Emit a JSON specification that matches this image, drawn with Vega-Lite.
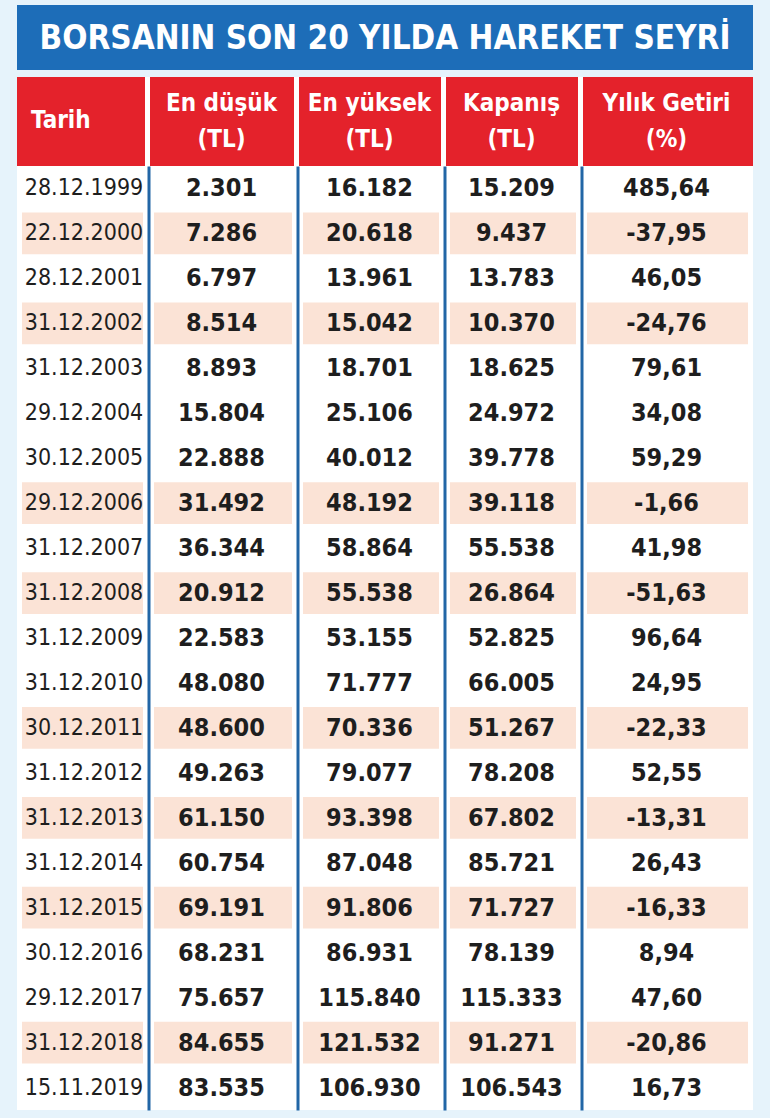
{
  "$schema": "https://vega.github.io/schema/vega-lite/v6.json",
  "background": "#e6f3fb",
  "padding": {"left": 17, "top": 5, "right": 17, "bottom": 8},
  "autosize": {"type": "pad"},
  "spacing": 7,
  "config": {
    "view": {"stroke": null},
    "concat": {"spacing": 0},
    "locale": {"number": {"decimal": ",", "thousands": ".", "grouping": [3], "currency": ["", " TL"], "minus": "-"}},
    "text": {"font": "DejaVu Sans Condensed, sans-serif"},
    "axisY": {"labels": false, "ticks": false, "title": null, "domainColor": "#2266a6", "domainWidth": 3, "offset": -1.5, "zindex": 1}
  },
  "datasets": {
    "rows": [
      {"tarih": "28.12.1999", "dusuk": 2301, "yuksek": 16182, "kapanis": 15209, "getiri": 485.64},
      {"tarih": "22.12.2000", "dusuk": 7286, "yuksek": 20618, "kapanis": 9437, "getiri": -37.95},
      {"tarih": "28.12.2001", "dusuk": 6797, "yuksek": 13961, "kapanis": 13783, "getiri": 46.05},
      {"tarih": "31.12.2002", "dusuk": 8514, "yuksek": 15042, "kapanis": 10370, "getiri": -24.76},
      {"tarih": "31.12.2003", "dusuk": 8893, "yuksek": 18701, "kapanis": 18625, "getiri": 79.61},
      {"tarih": "29.12.2004", "dusuk": 15804, "yuksek": 25106, "kapanis": 24972, "getiri": 34.08},
      {"tarih": "30.12.2005", "dusuk": 22888, "yuksek": 40012, "kapanis": 39778, "getiri": 59.29},
      {"tarih": "29.12.2006", "dusuk": 31492, "yuksek": 48192, "kapanis": 39118, "getiri": -1.66},
      {"tarih": "31.12.2007", "dusuk": 36344, "yuksek": 58864, "kapanis": 55538, "getiri": 41.98},
      {"tarih": "31.12.2008", "dusuk": 20912, "yuksek": 55538, "kapanis": 26864, "getiri": -51.63},
      {"tarih": "31.12.2009", "dusuk": 22583, "yuksek": 53155, "kapanis": 52825, "getiri": 96.64},
      {"tarih": "31.12.2010", "dusuk": 48080, "yuksek": 71777, "kapanis": 66005, "getiri": 24.95},
      {"tarih": "30.12.2011", "dusuk": 48600, "yuksek": 70336, "kapanis": 51267, "getiri": -22.33},
      {"tarih": "31.12.2012", "dusuk": 49263, "yuksek": 79077, "kapanis": 78208, "getiri": 52.55},
      {"tarih": "31.12.2013", "dusuk": 61150, "yuksek": 93398, "kapanis": 67802, "getiri": -13.31},
      {"tarih": "31.12.2014", "dusuk": 60754, "yuksek": 87048, "kapanis": 85721, "getiri": 26.43},
      {"tarih": "31.12.2015", "dusuk": 69191, "yuksek": 91806, "kapanis": 71727, "getiri": -16.33},
      {"tarih": "30.12.2016", "dusuk": 68231, "yuksek": 86931, "kapanis": 78139, "getiri": 8.94},
      {"tarih": "29.12.2017", "dusuk": 75657, "yuksek": 115840, "kapanis": 115333, "getiri": 47.60},
      {"tarih": "31.12.2018", "dusuk": 84655, "yuksek": 121532, "kapanis": 91271, "getiri": -20.86},
      {"tarih": "15.11.2019", "dusuk": 83535, "yuksek": 106930, "kapanis": 106543, "getiri": 16.73}
    ]
  },
  "vconcat": [
    {
      "width": 736, "height": 65,
      "view": {"fill": "#1d6db8"},
      "data": {"values": [{"t": "BORSANIN SON 20 YILDA HAREKET SEYRİ"}]},
      "mark": {"type": "text", "fontSize": 33, "fontWeight": "bold", "color": "white", "baseline": "middle", "dy": 1},
      "encoding": {"text": {"field": "t"}}
    },
    {
      "spacing": 0,
      "hconcat": [
        {
          "spacing": 0,
          "vconcat": [
            {
              "width": 130, "height": 89,
              "view": {"fill": "white"},
              "data": {"values": [{"h": "Tarih"}]},
              "layer": [
                {"mark": {"type": "rect", "color": "#e4222b", "xOffset": 0, "x2Offset": -2}, "encoding": {"x": {"value": 0}, "x2": {"value": "width"}, "y": {"value": 0}, "y2": {"value": "height"}}},
                {"mark": {"type": "text", "fontSize": 24, "fontWeight": "bold", "color": "white", "align": "left", "x": 14, "dy": -1}, "encoding": {"text": {"field": "h"}}}
              ]
            },
            {
              "width": 130, "height": 944, "view": {"fill": "white"},
              "data": {"name": "rows"},
              "encoding": {"y": {"field": "tarih", "type": "ordinal", "sort": null, "scale": {"paddingInner": 0.07, "paddingOuter": 0.035}, "axis": null}},
              "layer": [
                {"mark": {"type": "rect", "xOffset": 5, "x2Offset": -4}, "encoding": {"x": {"value": 0}, "x2": {"value": "width"}, "color": {"condition": {"test": "datum.getiri < 0", "value": "#fbe3d6"}, "value": "white"}}},
                {"mark": {"type": "text", "fontSize": 23, "color": "#1e1e1e", "dx": 2}, "encoding": {"text": {"field": "tarih"}}}
              ]
            }
          ]
        },
        {
          "spacing": 0,
          "vconcat": [
            {
              "width": 149, "height": 89,
              "view": {"fill": "white"},
              "data": {"values": [{"h": "En düşük\n(TL)"}]},
              "layer": [
                {"mark": {"type": "rect", "color": "#e4222b", "xOffset": 3, "x2Offset": -2}, "encoding": {"x": {"value": 0}, "x2": {"value": "width"}, "y": {"value": 0}, "y2": {"value": "height"}}},
                {"mark": {"type": "text", "fontSize": 24, "fontWeight": "bold", "color": "white", "lineBreak": "\n", "lineHeight": 36, "dy": -18}, "encoding": {"text": {"field": "h"}}}
              ]
            },
            {
              "width": 149, "height": 944, "view": {"fill": "white"},
              "data": {"name": "rows"},
              "encoding": {"y": {"field": "tarih", "type": "ordinal", "sort": null, "scale": {"paddingInner": 0.07, "paddingOuter": 0.035}}},
              "layer": [
                {"mark": {"type": "rect", "xOffset": 7, "x2Offset": -4}, "encoding": {"x": {"value": 0}, "x2": {"value": "width"}, "color": {"condition": {"test": "datum.getiri < 0", "value": "#fbe3d6"}, "value": "white"}}},
                {"mark": {"type": "text", "fontSize": 25, "fontWeight": "bold", "color": "#1e1e1e"}, "encoding": {"text": {"field": "dusuk", "type": "quantitative", "format": ",d"}}}
              ]
            }
          ]
        },
        {
          "spacing": 0,
          "vconcat": [
            {
              "width": 147, "height": 89,
              "view": {"fill": "white"},
              "data": {"values": [{"h": "En yüksek\n(TL)"}]},
              "layer": [
                {"mark": {"type": "rect", "color": "#e4222b", "xOffset": 3, "x2Offset": -2}, "encoding": {"x": {"value": 0}, "x2": {"value": "width"}, "y": {"value": 0}, "y2": {"value": "height"}}},
                {"mark": {"type": "text", "fontSize": 24, "fontWeight": "bold", "color": "white", "lineBreak": "\n", "lineHeight": 36, "dy": -18}, "encoding": {"text": {"field": "h"}}}
              ]
            },
            {
              "width": 147, "height": 944, "view": {"fill": "white"},
              "data": {"name": "rows"},
              "encoding": {"y": {"field": "tarih", "type": "ordinal", "sort": null, "scale": {"paddingInner": 0.07, "paddingOuter": 0.035}}},
              "layer": [
                {"mark": {"type": "rect", "xOffset": 7, "x2Offset": -4}, "encoding": {"x": {"value": 0}, "x2": {"value": "width"}, "color": {"condition": {"test": "datum.getiri < 0", "value": "#fbe3d6"}, "value": "white"}}},
                {"mark": {"type": "text", "fontSize": 25, "fontWeight": "bold", "color": "#1e1e1e"}, "encoding": {"text": {"field": "yuksek", "type": "quantitative", "format": ",d"}}}
              ]
            }
          ]
        },
        {
          "spacing": 0,
          "vconcat": [
            {
              "width": 137, "height": 89,
              "view": {"fill": "white"},
              "data": {"values": [{"h": "Kapanış\n(TL)"}]},
              "layer": [
                {"mark": {"type": "rect", "color": "#e4222b", "xOffset": 3, "x2Offset": -2}, "encoding": {"x": {"value": 0}, "x2": {"value": "width"}, "y": {"value": 0}, "y2": {"value": "height"}}},
                {"mark": {"type": "text", "fontSize": 24, "fontWeight": "bold", "color": "white", "lineBreak": "\n", "lineHeight": 36, "dy": -18}, "encoding": {"text": {"field": "h"}}}
              ]
            },
            {
              "width": 137, "height": 944, "view": {"fill": "white"},
              "data": {"name": "rows"},
              "encoding": {"y": {"field": "tarih", "type": "ordinal", "sort": null, "scale": {"paddingInner": 0.07, "paddingOuter": 0.035}}},
              "layer": [
                {"mark": {"type": "rect", "xOffset": 7, "x2Offset": -4}, "encoding": {"x": {"value": 0}, "x2": {"value": "width"}, "color": {"condition": {"test": "datum.getiri < 0", "value": "#fbe3d6"}, "value": "white"}}},
                {"mark": {"type": "text", "fontSize": 25, "fontWeight": "bold", "color": "#1e1e1e"}, "encoding": {"text": {"field": "kapanis", "type": "quantitative", "format": ",d"}}}
              ]
            }
          ]
        },
        {
          "spacing": 0,
          "vconcat": [
            {
              "width": 173, "height": 89,
              "view": {"fill": "white"},
              "data": {"values": [{"h": "Yılık Getiri\n(%)"}]},
              "layer": [
                {"mark": {"type": "rect", "color": "#e4222b", "xOffset": 3, "x2Offset": 0}, "encoding": {"x": {"value": 0}, "x2": {"value": "width"}, "y": {"value": 0}, "y2": {"value": "height"}}},
                {"mark": {"type": "text", "fontSize": 24, "fontWeight": "bold", "color": "white", "lineBreak": "\n", "lineHeight": 36, "dy": -18}, "encoding": {"text": {"field": "h"}}}
              ]
            },
            {
              "width": 173, "height": 944, "view": {"fill": "white"},
              "data": {"name": "rows"},
              "encoding": {"y": {"field": "tarih", "type": "ordinal", "sort": null, "scale": {"paddingInner": 0.07, "paddingOuter": 0.035}}},
              "layer": [
                {"mark": {"type": "rect", "xOffset": 7, "x2Offset": -5}, "encoding": {"x": {"value": 0}, "x2": {"value": "width"}, "color": {"condition": {"test": "datum.getiri < 0", "value": "#fbe3d6"}, "value": "white"}}},
                {"mark": {"type": "text", "fontSize": 25, "fontWeight": "bold", "color": "#1e1e1e"}, "encoding": {"text": {"field": "getiri", "type": "quantitative", "format": ".2f"}}}
              ]
            }
          ]
        }
      ]
    }
  ]
}
